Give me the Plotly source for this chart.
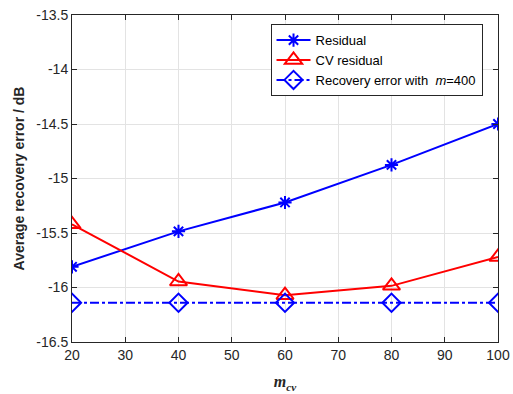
import plotly.graph_objects as go

m_cv = [20, 40, 60, 80, 100]
residual = [-15.81, -15.485, -15.22, -14.875, -14.50]
cv_residual = [-15.42, -15.945, -16.07, -15.985, -15.72]
recovery_m400 = [-16.14, -16.14, -16.14, -16.14, -16.14]

y_ticks = [-16.5, -16, -15.5, -15, -14.5, -14, -13.5]
y_ticklabels = ["-16.5", "-16", "-15.5", "-15", "-14.5", "-14", "-13.5"]
x_ticks = [20, 30, 40, 50, 60, 70, 80, 90, 100]

fig = go.Figure()
fig.add_trace(go.Scatter(
    x=m_cv, y=residual, mode="lines+markers", name="Residual",
    line=dict(color="#0000ff", width=2),
    marker=dict(symbol="asterisk-open", size=11, color="#0000ff", line=dict(color="#0000ff", width=2)),
))
fig.add_trace(go.Scatter(
    x=m_cv, y=cv_residual, mode="lines+markers", name="CV residual",
    line=dict(color="#ff0000", width=2),
    marker=dict(symbol="triangle-up-open", size=15, color="#ff0000", line=dict(color="#ff0000", width=2)),
))
fig.add_trace(go.Scatter(
    x=m_cv, y=recovery_m400, mode="lines+markers",
    name="Recovery error with  <i>m</i>=400",
    line=dict(color="#0000ff", width=2, dash="dashdot"),
    marker=dict(symbol="diamond-open", size=14, color="#0000ff", line=dict(color="#0000ff", width=2)),
))

axis_common = dict(
    showline=True, linecolor="#262626", linewidth=1, mirror="ticks",
    ticks="inside", ticklen=5, tickcolor="#262626", automargin=False,
    showgrid=True, gridcolor="#e3e3e3", gridwidth=1, zeroline=False,
    tickfont=dict(family="Liberation Sans, Arial", size=14, color="#262626"),
)

fig.update_layout(
    width=513, height=394,
    margin=dict(l=72, r=15, t=15, b=52),
    paper_bgcolor="white", plot_bgcolor="white",
    font=dict(family="Liberation Sans, Arial", size=13, color="#262626"),
    xaxis=dict(range=[20, 100], tickvals=x_ticks, **axis_common,
               title=dict(text="<b><i>m</i></b><sub><b><i>cv</i></b></sub>",
                          font=dict(family="Liberation Serif, Times New Roman", size=16, color="#262626"),
                          standoff=14)),
    yaxis=dict(range=[-16.5, -13.5], tickvals=y_ticks, ticktext=y_ticklabels, **axis_common,
               title=dict(text="<b>Average recovery error / dB</b>",
                          font=dict(family="Liberation Sans, Arial", size=14, color="#262626"),
                          standoff=8)),
    legend=dict(
        x=0.466, y=0.972, xanchor="left", yanchor="top",
        bgcolor="white", bordercolor="#262626", borderwidth=1,
        font=dict(family="Liberation Sans, Arial", size=13, color="black"),
        tracegroupgap=0, itemwidth=34,
    ),
    showlegend=True,
)

fig.write_html("out.html")
